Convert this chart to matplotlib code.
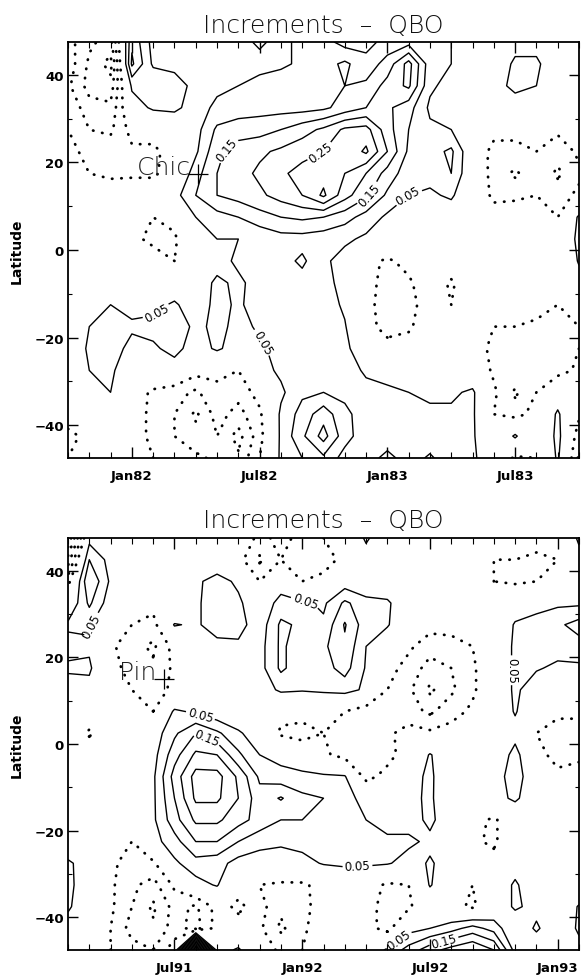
import numpy as np
import matplotlib
matplotlib.use("Agg")
import matplotlib.pyplot as plt

# ---------------- data ----------------
months = list(range(25))                      # month index along the time axis
lats = [47.5, 42.5, 37.5, 32.5, 27.5, 22.5, 17.5, 12.5, 7.5, 2.5,
        -2.5, -7.5, -12.5, -17.5, -22.5, -27.5, -32.5, -37.5, -42.5, -47.5]

# Top panel (Oct81 - Oct83), increments in units of 0.01, rows follow `lats`
top_vals = [
    [-8, -14, -17, 14, 3, 2, 1, 2, 3, 6, 3, 7, 7, 3, 3, 7, 8, 6, 5, 0, 0, 3, 3, 0, 0],
    [-7, -16, -22, 16, 4, 3, 2, 3, 2, 3, 4, 6, 8, 11, 7, 12, 22, 7, 5, 0, 1, 6, 6, 1, 0],
    [-9, -17, -18, 6, 10, 8, 3, 4, 5, 7, 8, 8, 9, 10, 11, 17, 21, 6, 3, 1, 2, 7, 5, 1, 0],
    [-6, -13, -14, 2, 6, 6, 3, 6, 7, 8, 8, 8, 9, 12, 15, 16, 12, 4, 1, 0, 0, 1, 1, 0, 0],
    [-5, -10, -11, -3, -3, 1, 3, 11, 13, 13, 15, 18, 21, 26, 27, 17, 10, 6, 5, 0, -3, -4, -3, -4, -3],
    [-3, -7, -7, -6, -6, -3, 4, 14, 17, 19, 21, 23, 25, 26, 31, 20, 9, 8, 11, 0, -7, -6, -5, -8, -4],
    [-3, -5, -6, -6, -6, -2, 8, 15, 18, 21, 24, 27, 28, 25, 20, 13, 7, 7, 10, 0, -7, -11, -6, -11, -6],
    [-5, -3, -2, -1, -1, 3, 10, 15, 17, 19, 22, 25, 31, 22, 16, 9, 5, 4, 6, -1, -6, -6, -5, -7, -4],
    [-4, -2, -1, -3, -5, -3, 5, 8, 10, 13, 15, 16, 15, 12, 8, 4, 2, 1, 1, 0, -3, -2, -4, -5, 6],
    [-2, -1, 0, -4, -6, -6, 2, 5, 5, 6, 8, 8, 7, 6, 4, 2, 0, 0, 0, 0, 0, 0, -2, -3, 7],
    [0, 0, 0, -1, -3, -5, 1, 3, 6, 6, 8, 11, 6, 3, -3, -6, -3, 0, 0, 0, 0, 0, 0, -1, 5.5],
    [0, 0, 0, -2, -1, 0, 2, 6, 4, 7, 8, 8, 7, 3, -3, -7, -6, -1, -6, 0, 0, 0, 0, 0, 3],
    [0, 2, 5, 3, 3, 6, 1, 7, 4, 8, 8, 7, 8, 4, -3, -8, -7, -2, -5, 0, -2, -3, -3, -5, 0],
    [0, 5, 9, 6, 7, 10, 3, 7, 3, 6, 8, 8, 8, 5.5, -3, -7, -6, -1, 0, -2, -5, -5, -6, -9, -5],
    [0, 6, 8, 3, 4, 7, 2, 6, 2, 4, 7, 7, 8, 6, 2, -3, -2, 0, -1, -3, -6, -6, -7, -10, -5],
    [0, 5, 6, 1, 1, 2, -3, -4, -5, 3, 6, 7, 8, 8, 4, 3, 3, 2, 2, 0, -6, -5, -6, -7, -4],
    [-2, 2, 5, -2, -6, -8, -11, -6, -8, -3, 4, 9, 10, 9, 7, 6, 5, 4, 4, 6, -4, -11, -5, 1, -2],
    [-3, -1, 0, -3, -6, -10, -16, -8, -12, -6, 6, 12, 18, 11, 8, 7, 7, 6, 6, 6, -5, -7, -3, 6, -4],
    [-6, -4, -1, -3, -6, -10, -13, -10, -17, -7, 6, 14, 22, 12, 7, 6, 6, 6, 6, 6, -3, 6, -4, 7, -8],
    [-5, -2, 0, -2, -5, -7, -9, -11, -14, -5, 6, 10, 14, 8, 7, 12, 7, 11, 6, 6, 1, -6, -5, 6, -11],
]

# Bottom panel (Feb91 - Feb93), increments in units of 0.01, rows follow `lats`
bot_vals = [
    [-30, 3, 1, 0, 0, 0, 0, 0, -2, -6, -4, -6, -5, -2, 6, 0, 0, 0, 0, 0, 3, -3, -3, -2, 6],
    [-18, 10, 3, 1, 0, 0, 0, 1, -3, -11, -5, -6, -8, -3, 2, 0, 0, 0, 0, -1, -5, -5, -6, -5, 3],
    [-7, 15, 4, 1, 2, 1, 4, 7, 4, -5, 2, -5, -3, 2, 0, 0, 0, 0, 0, -1, -5, -6, -5, -4, 1],
    [0, 11, 2, -1, -3, -4, 4, 8, 6, 1, 7, 6, 4, 11, 7, 6, 0, 0, 0, 0, 0, 2, 3, 4, 4],
    [6, 6, -3, -5, -7, 5.5, 4, 8, 7, 2, 11, 9, 6, 15.5, 7, 5.5, 0, -3, -3, 0, 0, 5.5, 7, 9, 12],
    [3, 4, -4, -8, -11, -3, 2, 3, 4, 3, 11, 7, 9, 14, 5, 1, -4, -8, -7, -5, 0, 6, 8, 7, 8],
    [6, 6, -3, -7, -9, -4, 0, 0, 0, 3, 11, 7, 8, 12, 4.5, -3, -7, -12, -10, -6, 0, 6, 5.5, 4, 4],
    [2, 3, -2, -5, -7, -4, 0, 0, 0, 2, 6, 5.5, 6, 7, 4, -5, -9, -16, -11, -6, 0, 6, 2, 0, -2],
    [0, 0, 0, -2, -5, 6, 4, 1, -1, -4, -3, -3, -2, -5, -8, -6, -8, -11, -7, -4, 0, 5.5, 0, -3, -4],
    [0, -6, 0, 0, 2, 9, 15, 11, 6, 1, -6, -7, -5, -6, -9, -6, -3, -4, -3, -1, 2, 3, -5, -9, -7],
    [0, 0, 0, 0, 3, 13, 21, 20, 11, 5, 3, -1, -4, -7, -10, -7, -2, 5.5, 0, 0, 0, 7, -2, -8, -6],
    [0, 0, 0, 0, 4, 17, 27, 27, 19, 9, 7, 7, 6, 5.5, -7, -3, 1, 7, -4, 0, 2, 8, 0, -3, -3],
    [0, 0, 0, 0, 4, 15, 26, 26, 20, 12, 15.5, 11, 10, 7, 3, 0, 2, 7, -5, 0, 3, 6, 1, 0, 0],
    [0, 0, 0, 0, 4, 13, 21, 21, 17, 13, 10, 10, 10, 7, 5, 3, 3, 6, 2, -3, -6, 0, 0, 0, 0],
    [0, 0, -3, -5, 3, 8, 15, 15, 10, 7, 6, 7, 6, 7, 6, 6, 6, 4, 2, -4, -6, 0, 0, 0, 0],
    [6, 2, -4, -7, -6, 4, 8, 7, 3, 2, 2, 3, 5.5, 6, 6, 5.5, 3, 5.5, 3, -1, -3, 2, 0, 0, 0],
    [7, 0, -4, -9, -12, -4, 3, 5.5, -3, -5, -6, -6, -3, 0, -2, -6, -5, 5.5, 0, -5, 0, 6, 0, 0, 0],
    [6, 0, -4, -10, -16, -8, -11, -3, -6, -3, -9, -7, -2, 0, -2, -8, -6, 0, -3, -6, 0, 6, 3, 0, 5.5],
    [2, -1, -5, -12, -14, -8, -12, -3, -3, -4, -11, -6, -2, 0, -3, -7, 3, 5, 8, 12, 8, 0, 6, 0, 6],
    [0, -2, -5, -8, -10, -2, 70, 2, 6, -2, -6, -5, -2, 0, 0, 6, 12, 18, 22, 25, 20, 3, 0, 0, 3],
]

top_ticks = [3, 9, 15, 21]
top_ticklabels = ["Jan82", "Jul82", "Jan83", "Jul83"]
bot_ticks = [5, 11, 17, 23]
bot_ticklabels = ["Jul91", "Jan92", "Jul92", "Jan93"]
lat_ticks = [-40, -20, 0, 20, 40]

top_volcano = ("Chic", 6.1, 17.4)      # El Chichon: month index, latitude
bot_volcano = ("Pin", 4.5, 15.1)       # Pinatubo: month index, latitude

top_label_spots = [(7.2, 24.4), (12.1, 20.0), (14.2, 12.5), (15.9, 12.8), (4.1, -14.0), (9.0, -21.5)]
bot_label_spots = [(11.1, 31.7), (1.3, 27.0), (6.2, 6.3), (6.5, 1.4), (13.6, -28.6), (20.8, 17.0),
                   (15.6, -45.6), (17.6, -44.5)]

title_text = "Increments  \u2013  QBO"

# ---------------- figure ----------------
W, H = 581, 979
fig = plt.figure(figsize=(W / 100, H / 100), dpi=100)

lab_levels = [0.05, 0.15, 0.25, 0.35, 0.45, 0.55, 0.65]
plain_levels = [0.10, 0.20, 0.30, 0.40, 0.50, 0.60]
neg_levels = [-0.45, -0.40, -0.35, -0.30, -0.25, -0.20, -0.15, -0.10, -0.05]


def draw_panel(rect, vals, ticks, ticklabels, volcano, label_spots, title_base):
    ax = fig.add_axes(rect)
    lat_arr = np.array(lats)[::-1]
    Z = np.array(vals, dtype=float)[::-1] / 100.0
    X, Y = np.meshgrid(np.array(months, dtype=float), lat_arr)
    neg = ax.contour(X, Y, Z, levels=neg_levels, colors="k", linewidths=2.0,
                     linestyles=[(0, (0.15, 3.2))])
    neg.set_capstyle("round")
    ax.contour(X, Y, Z, levels=plain_levels, colors="k", linewidths=1.0,
               linestyles="solid")
    cs = ax.contour(X, Y, Z, levels=lab_levels, colors="k", linewidths=1.0,
                    linestyles="solid")
    ax.clabel(cs, fmt="%.2f", fontsize=8.5, inline=True, inline_spacing=2,
              manual=label_spots)
    ax.set_xlim(0, 24)
    ax.set_ylim(-47.5, 47.5)
    ax.set_xticks(ticks)
    ax.set_xticklabels(ticklabels, fontsize=9.5, fontweight="bold")
    ax.set_xticks(months, minor=True)
    ax.set_yticks(lat_ticks)
    ax.set_yticklabels([str(v) if v >= 0 else "\u2212" + str(-v) for v in lat_ticks],
                       fontsize=9.5, fontweight="bold")
    ax.set_yticks([-30, -10, 10, 30], minor=True)
    ax.tick_params(axis="both", which="both", direction="in", top=True, right=True)
    ax.tick_params(axis="x", which="major", length=8, width=1.0, pad=8)
    ax.tick_params(axis="x", which="minor", length=4, width=0.8)
    ax.tick_params(axis="y", which="major", length=7, width=1.0, pad=3)
    ax.tick_params(axis="y", which="minor", length=3, width=0.8)
    for s in ax.spines.values():
        s.set_linewidth(1.3)
    name, vx, vy = volcano
    ax.plot([vx], [vy], marker="+", color="k", markersize=15, mew=0.9)
    ax.text(vx - 0.35, vy, name, ha="right", va="baseline", fontsize=18,
            fontweight="light", color="#222222")
    fig.text((rect[0] + rect[0] + rect[2]) / 2, title_base, title_text, ha="center",
             va="baseline", fontsize=18, fontweight="light", color="#111111")
    fig.text(17 / W, rect[1] + rect[3] / 2, "Latitude", rotation=90, ha="center",
             va="center", fontsize=10, fontweight="bold")
    return ax


left = 68 / W
width = (579 - 68) / W
draw_panel([left, 1 - 459 / H, width, 416 / H], top_vals, top_ticks, top_ticklabels,
           top_volcano, top_label_spots, 1 - 33 / H)
draw_panel([left, 1 - 951 / H, width, 412 / H], bot_vals, bot_ticks, bot_ticklabels,
           bot_volcano, bot_label_spots, 1 - 528 / H)

fig.savefig("out.png", dpi=100)
